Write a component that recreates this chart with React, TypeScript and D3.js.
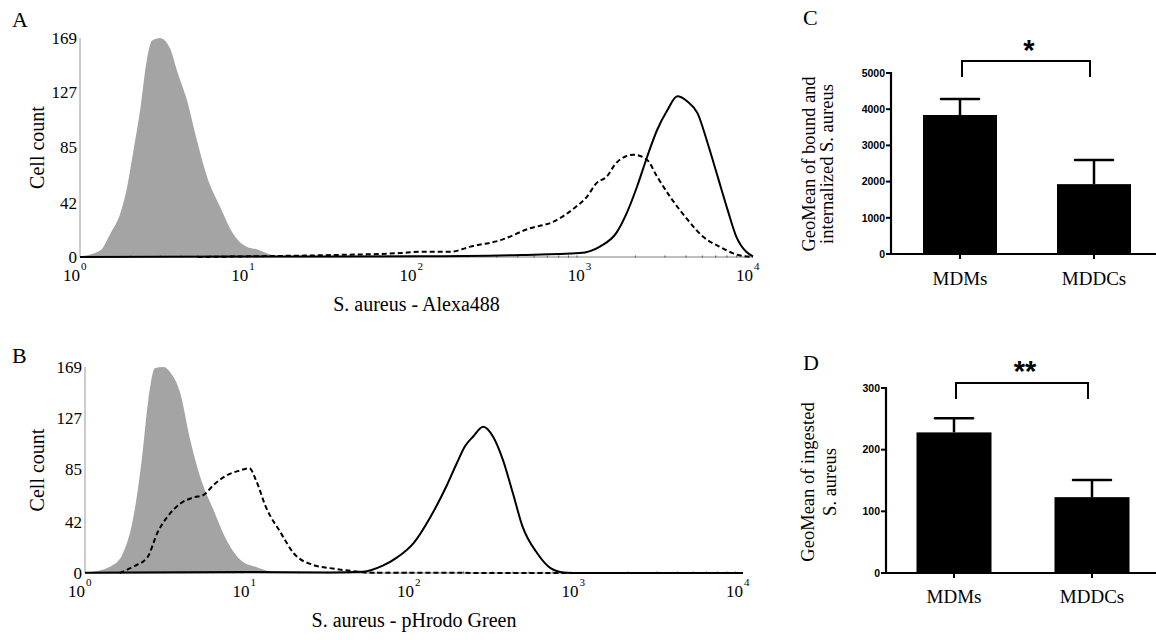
import * as d3 from 'd3';

type Pt = [number, number]; // [log10 fluorescence, cell count]

// histogram axes
const decades = [0, 1, 2, 3, 4];
const countTicks = [0, 42, 85, 127, 169];

// panel A: S. aureus - Alexa488
const controlA: Pt[] = [
  [0, 0.5], [0.12, 5], [0.18, 18], [0.24, 34], [0.28, 54], [0.315, 80], [0.357, 113],
  [0.397, 152], [0.428, 167], [0.475, 169], [0.535, 161], [0.576, 144], [0.636, 121],
  [0.695, 90], [0.755, 62], [0.832, 39], [0.91, 18], [0.99, 8], [1.05, 6], [1.13, 2],
  [1.2, 0.5], [1.3, 0],
];
const dashedA: Pt[] = [
  [0.7, 0], [1.0, 0.5], [1.5, 1.5], [1.9, 3], [2.02, 4], [2.2, 4], [2.32, 8], [2.5, 13],
  [2.67, 22], [2.81, 27], [2.95, 39], [3.01, 46], [3.07, 57], [3.13, 62], [3.19, 73],
  [3.29, 79], [3.37, 75], [3.43, 62], [3.51, 46], [3.61, 29], [3.7, 16], [3.8, 8],
  [3.9, 2], [4.0, 0],
];
const solidA: Pt[] = [
  [0, 0], [1.0, 0.3], [2.0, 0.5], [2.62, 1.5], [2.97, 3], [3.09, 8], [3.19, 19], [3.25, 34],
  [3.31, 54], [3.37, 77], [3.43, 98], [3.49, 113], [3.55, 124], [3.61, 120], [3.67, 111],
  [3.73, 88], [3.79, 62], [3.85, 36], [3.9, 16], [3.96, 4], [4.0, 0.5],
];

// panel B: S. aureus - pHrodo Green
const controlB: Pt[] = [
  [0, 0], [0.03, 0.5], [0.17, 6.5], [0.23, 16], [0.29, 43], [0.345, 93], [0.385, 142],
  [0.425, 168], [0.475, 169], [0.517, 165], [0.578, 148], [0.64, 109], [0.7, 79],
  [0.78, 52], [0.86, 27], [0.96, 9], [1.04, 5], [1.12, 1.5], [1.19, 0.3], [1.3, 0],
];
const dashedB: Pt[] = [
  [0.21, 0], [0.29, 5], [0.38, 13], [0.44, 33], [0.5, 46], [0.58, 57], [0.66, 62],
  [0.72, 64], [0.78, 72], [0.86, 80], [0.94, 84], [1.0, 86], [1.04, 76], [1.1, 54],
  [1.19, 33], [1.27, 16], [1.39, 6.5], [1.49, 4], [1.6, 2], [1.75, 0.3], [3.0, 0],
];
const solidB: Pt[] = [
  [0, 0.3], [1.0, 0.8], [1.49, 0.5], [1.69, 1], [1.81, 6], [1.9, 13], [2.0, 25], [2.1, 46],
  [2.2, 72], [2.26, 90], [2.31, 104], [2.36, 112], [2.42, 120], [2.48, 112], [2.54, 93],
  [2.6, 66], [2.66, 38], [2.75, 16], [2.83, 4], [2.91, 0.5], [3.0, 0], [4.0, 0],
];

// bar panels
const cellTypes = ['MDMs', 'MDDCs'];
const boundMean = [3840, 1930];
const boundSem = [440, 670];
const boundTicks = [0, 1000, 2000, 3000, 4000, 5000];
const ingestedMean = [228, 123];
const ingestedSem = [23, 28];
const ingestedTicks = [0, 100, 200, 300];

const serif = '"Liberation Serif", "Times New Roman", serif';
const sans = '"Liberation Sans", Arial, sans-serif';

function Histogram(props: {
  letter: string; letterY: number; x0: number; x1: number; yTop: number; yBase: number;
  control: Pt[]; dashed: Pt[]; solid: Pt[]; title: string;
}) {
  const { letter, letterY, x0, x1, yTop, yBase, control, dashed, solid, title } = props;
  const x = d3.scaleLog().domain([1, 1e4]).range([x0, x1]);
  const y = d3.scaleLinear().domain([0, 169]).range([yBase, yTop]);
  const fx = (p: Pt) => x(Math.pow(10, p[0]));
  const area = d3.area<Pt>().x(fx).y0(yBase).y1((p) => y(p[1])).curve(d3.curveMonotoneX);
  const line = d3.line<Pt>().x(fx).y((p) => y(p[1])).curve(d3.curveMonotoneX);
  const minor = x.ticks().filter((v) => Math.abs(Math.log10(v) % 1) > 1e-6);

  return (
    <g>
      <text x={12} y={letterY} fontFamily={serif} fontSize={22}>{letter}</text>
      <path d={area(control) || ''} fill="#a4a4a4" />
      <line x1={x0} x2={x0} y1={yTop} y2={yBase} stroke="#999" strokeWidth={1} />
      <line x1={x0} x2={x1} y1={yBase} y2={yBase} stroke="#aaa" strokeWidth={1.5} />
      {minor.map((v) => (
        <line key={v} x1={x(v)} x2={x(v)} y1={yBase - 1.5} y2={yBase + 0.5} stroke="#555" strokeWidth={1} />
      ))}
      <path d={line(dashed) || ''} fill="none" stroke="#000" strokeWidth={2} strokeDasharray="5,3" />
      <path d={line(solid) || ''} fill="none" stroke="#000" strokeWidth={2} />
      {countTicks.map((v) => (
        <text key={v} x={x0 - 3} y={y(v)} dy="0.35em" textAnchor="end" fontFamily={serif} fontSize={17}>{v}</text>
      ))}
      {decades.map((d) => (
        <g key={d} fontFamily={serif}>
          <text x={x(Math.pow(10, d))} y={yBase + 24} textAnchor="end" fontSize={17}>10</text>
          <text x={x(Math.pow(10, d)) + 1} y={yBase + 13} fontSize={11}>{d}</text>
        </g>
      ))}
      <text x={(x0 + x1) / 2} y={yBase + 54} textAnchor="middle" fontFamily={serif} fontSize={20}>{title}</text>
      <text transform={`translate(44,${(yTop + yBase) / 2}) rotate(-90)`} textAnchor="middle" fontFamily={serif} fontSize={20}>
        Cell count
      </text>
    </g>
  );
}

function BarPanel(props: {
  letter: string; letterY: number; axisX: number; yTop: number; yBase: number;
  centers: [number, number]; barW: number; ticks: number[]; means: number[]; sems: number[];
  labelLines: string[]; labelX: number[]; labelY: number; bracketY: number; bracketDrop: number;
  stars: string; starY: number; catY: number;
}) {
  const p = props;
  const max = p.ticks[p.ticks.length - 1];
  const y = d3.scaleLinear().domain([0, max]).range([p.yBase, p.yTop]);
  const x = d3.scalePoint<string>().domain(cellTypes).range(p.centers);
  const cx0 = x(cellTypes[0]) as number;
  const cx1 = x(cellTypes[1]) as number;

  return (
    <g>
      <text x={803} y={p.letterY} fontFamily={serif} fontSize={22}>{p.letter}</text>
      {cellTypes.map((c, i) => {
        const cx = x(c) as number;
        const top = y(p.means[i]);
        const err = y(p.means[i] + p.sems[i]);
        return (
          <g key={c}>
            <line x1={cx} x2={cx} y1={top} y2={err} stroke="#000" strokeWidth={2.5} />
            <line x1={cx - 19} x2={cx + 19} y1={err} y2={err} stroke="#000" strokeWidth={2.5} strokeLinecap="round" />
            <rect x={cx - p.barW / 2} y={top} width={p.barW} height={p.yBase - top} fill="#000" />
            <line x1={cx} x2={cx} y1={p.yBase} y2={p.yBase + 5} stroke="#000" strokeWidth={2} />
            <text x={cx} y={p.catY} textAnchor="middle" fontFamily={serif} fontSize={19}>{c}</text>
          </g>
        );
      })}
      <line x1={p.axisX} x2={p.axisX} y1={p.yTop - 1} y2={p.yBase} stroke="#000" strokeWidth={2.2} />
      <line x1={p.axisX} x2={1156} y1={p.yBase} y2={p.yBase} stroke="#000" strokeWidth={2.2} />
      {p.ticks.map((t) => (
        <g key={t}>
          <line x1={p.axisX - 5} x2={p.axisX} y1={y(t)} y2={y(t)} stroke="#000" strokeWidth={2} />
          <text x={p.axisX - 6} y={y(t)} dy="0.36em" textAnchor="end" fontFamily={sans} fontWeight="bold" fontSize={10.5}>{t}</text>
        </g>
      ))}
      <path
        d={`M${cx0 + 2},${p.bracketDrop}V${p.bracketY}H${cx1 - 4}V${p.bracketDrop}`}
        fill="none" stroke="#000" strokeWidth={2}
      />
      <text x={(cx0 + cx1) / 2 + 2} y={p.starY} textAnchor="middle" fontFamily={sans} fontWeight="bold" fontSize={29}>{p.stars}</text>
      {p.labelLines.map((l, i) => (
        <text key={i} transform={`translate(${p.labelX[i]},${p.labelY}) rotate(-90)`} textAnchor="middle" fontFamily={serif} fontSize={18.5}>
          {l}
        </text>
      ))}
    </g>
  );
}

export default function App() {
  return (
    <svg width={1156} height={640} style={{ position: 'absolute', left: 0, top: 0, background: '#fff' }}>
      <Histogram letter="A" letterY={27} x0={80} x1={753} yTop={38} yBase={257}
        control={controlA} dashed={dashedA} solid={solidA} title="S. aureus - Alexa488" />
      <Histogram letter="B" letterY={363} x0={85} x1={743} yTop={367} yBase={573}
        control={controlB} dashed={dashedB} solid={solidB} title="S. aureus - pHrodo Green" />
      <BarPanel letter="C" letterY={25} axisX={891} yTop={73} yBase={254} centers={[960, 1094]} barW={74}
        ticks={boundTicks} means={boundMean} sems={boundSem}
        labelLines={['GeoMean of bound and', 'internalized S. aureus']} labelX={[815, 833]} labelY={164}
        bracketY={61} bracketDrop={77} stars="*" starY={60} catY={285} />
      <BarPanel letter="D" letterY={370} axisX={886} yTop={388} yBase={573} centers={[954, 1092]} barW={75}
        ticks={ingestedTicks} means={ingestedMean} sems={ingestedSem}
        labelLines={['GeoMean of ingested', 'S. aureus']} labelX={[814, 836]} labelY={482}
        bracketY={383} bracketDrop={399} stars="**" starY={381} catY={603} />
    </svg>
  );
}
